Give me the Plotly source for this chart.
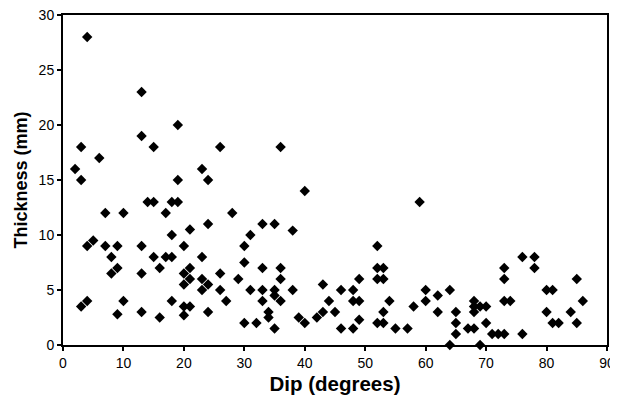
import plotly.graph_objects as go

# dip angle (degrees) and vein thickness (mm)
dip = [4, 13, 19, 13, 3, 15, 6, 2, 23, 3, 19, 24,
       14, 15, 18, 19, 7, 10, 17, 24, 18, 21, 5, 4, 7, 9, 13, 20,
       8, 15, 17, 18, 23, 9, 16, 21, 8, 13, 20, 21, 23, 20, 24, 23,
       3, 4, 10, 18, 20, 21, 9, 13, 16, 20, 24,
       26, 36, 40, 28, 33, 35, 38, 31, 30, 30, 26, 33, 36, 29, 36,
       26, 31, 33, 35, 38, 35, 43, 46, 48, 49,
       27, 33, 36, 44, 48, 49, 34, 43, 45, 34, 39, 42, 49,
       30, 32, 40, 35, 46, 48,
       59, 52, 52, 53, 52, 53, 54, 53, 52, 53, 55, 57, 58,
       60, 60, 62, 62, 64, 65, 65, 65, 64, 67, 68, 68, 68, 68, 69,
       76, 78, 78, 73, 73, 85, 80, 81, 73, 74, 86, 70, 80, 84,
       70, 81, 82, 85, 71, 72, 73, 76, 69]
thickness = [28, 23, 20, 19, 18, 18, 17, 16, 16, 15, 15, 15,
             13, 13, 13, 13, 12, 12, 12, 11, 10, 10.5, 9.5, 9, 9, 9, 9, 9,
             8, 8, 8, 8, 8, 7, 7, 7, 6.5, 6.5, 6.5, 6, 6, 5.5, 5.5, 5,
             3.5, 4, 4, 4, 3.5, 3.5, 2.8, 3, 2.5, 2.7, 3,
             18, 18, 14, 12, 11, 11, 10.4, 10, 9, 7.5, 6.5, 7, 7, 6, 6,
             5, 5, 5, 5, 5, 4.5, 5.5, 5, 5, 6,
             4, 4, 4, 4, 4, 4, 3, 3, 3, 2.5, 2.5, 2.5, 2.3,
             2, 2, 2, 1.5, 1.5, 1.5,
             13, 9, 7, 7, 6, 6, 4, 3, 2, 2, 1.5, 1.5, 3.5,
             5, 4, 4.5, 3, 5, 3, 2, 1, 0, 1.5, 1.5, 4, 3.5, 3, 3.5,
             8, 8, 7, 7, 6, 6, 5, 5, 4, 4, 4, 3.5, 3, 3,
             2, 2, 2, 2, 1, 1, 1, 1, 0]

x_ticks = list(range(0, 91, 10))
y_ticks = list(range(0, 31, 5))

fig = go.Figure()
fig.add_trace(go.Scatter(
    x=dip, y=thickness, mode="markers",
    marker=dict(symbol="diamond", size=8, color="black"),
    cliponaxis=False,
))

axis_style = dict(
    showline=True, linecolor="black", linewidth=2, mirror=True,
    ticks="outside", ticklen=4, tickwidth=1.5, tickcolor="black",
    showgrid=False, zeroline=False, automargin=False,
    ticklabeloverflow="allow",
    tickfont=dict(family="Liberation Sans, Arial", size=14, color="black"),
)

fig.update_xaxes(range=[0, 90], tickvals=x_ticks,
                 title=dict(text="<b>Dip (degrees)</b>", standoff=7,
                            font=dict(family="Liberation Sans, Arial", size=20.5, color="black")),
                 **axis_style)
fig.update_yaxes(range=[0, 30], tickvals=y_ticks,
                 title=dict(text="<b>Thickness (mm)</b>", standoff=6,
                            font=dict(family="Liberation Sans, Arial", size=18, color="black")),
                 **axis_style)

# page body has an 8px margin, so the figure is a bit smaller than the window
fig.update_layout(
    width=610, height=392,
    margin=dict(l=55, r=11, t=7, b=55),
    plot_bgcolor="white", paper_bgcolor="white",
    showlegend=False,
)

fig.write_html("out.html")
